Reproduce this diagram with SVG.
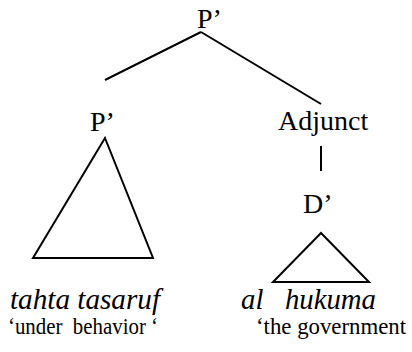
<svg xmlns="http://www.w3.org/2000/svg" width="412" height="352" viewBox="0 0 412 352">
<style>
text{font-family:"Liberation Serif","Times New Roman",serif;fill:#000}
.lb{font-size:28px}
.it{font-style:italic;font-size:28.5px}
.gl{font-size:23px}
.ln{stroke:#000;stroke-width:2;fill:none}
</style>
<rect width="412" height="352" fill="#fff"/>
<g id="connectors">
<line class="ln" x1="201" y1="32" x2="105" y2="80"/>
<line class="ln" x1="201" y1="32" x2="321" y2="104"/>
<line class="ln" x1="321" y1="146" x2="321" y2="171"/>
</g>
<g id="root"><text class="lb" x="197" y="28">P’</text></g>
<g id="p-bar"><text class="lb" x="90" y="131">P’</text></g>
<g id="adjunct"><text class="lb" x="278" y="130">Adjunct</text></g>
<g id="d-bar"><text class="lb" x="303" y="213">D’</text></g>
<g id="tri-left"><polygon class="ln" points="105,138 153,258 33,258"/></g>
<g id="tri-right"><polygon class="ln" points="321,233 369,282 273,282"/></g>
<g id="gloss-left">
<text class="it" x="10" y="309" textLength="150" lengthAdjust="spacingAndGlyphs">tahta tasaruf</text>
<text class="gl" x="8" y="334" xml:space="preserve" textLength="150" lengthAdjust="spacingAndGlyphs">‘under  behavior ‘</text>
</g>
<g id="gloss-right">
<text class="it" x="241" y="309" xml:space="preserve" textLength="135" lengthAdjust="spacingAndGlyphs">al   hukuma</text>
<text class="gl" x="256" y="334" textLength="150" lengthAdjust="spacingAndGlyphs">‘the government</text>
</g>
</svg>
